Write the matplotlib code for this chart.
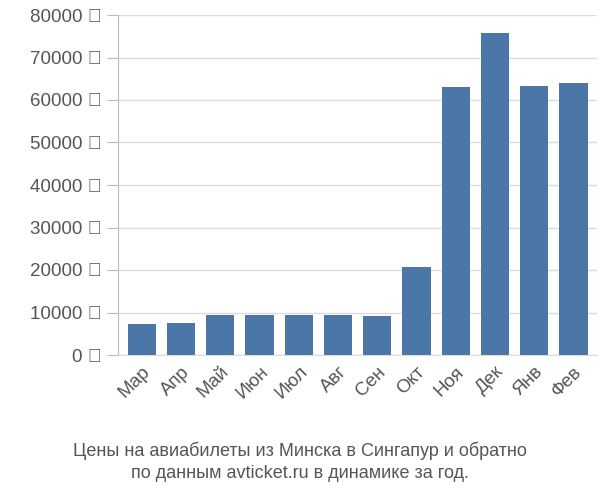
import matplotlib
matplotlib.use("Agg")
import matplotlib.pyplot as plt

months = ["Мар","Апр","Май","Июн","Июл","Авг","Сен","Окт","Ноя","Дек","Янв","Фев"]
prices = [7400, 7600, 9400, 9400, 9300, 9300, 9200, 20600, 63000, 75800, 63400, 64000]
yticks = [0,10000,20000,30000,40000,50000,60000,70000,80000]

plt.rcParams["font.family"] = "Liberation Sans"
fig = plt.figure(figsize=(6,5), dpi=100)
ax = fig.add_axes([0.197, 0.29, 0.798, 0.68])
ax.bar(range(len(months)), prices, width=0.72, color="#4a76a8", zorder=3)
ax.set_ylim(0, 80000)
ax.set_xlim(-0.6, len(months)-0.4)
ax.set_yticks(yticks)
ax.set_yticklabels([f"{v} ₽" for v in yticks], fontsize=13.5, color="#555555")
ax.set_xticks(range(len(months)))
ax.set_xticklabels(months, rotation=45, ha="right", rotation_mode="anchor", fontsize=13.5, color="#555555")
ax.grid(axis="y", color="#dddddd", linewidth=1, zorder=0)
for s in ["top","right"]:
    ax.spines[s].set_visible(False)
ax.spines["left"].set_color("#bbbbbb")
ax.spines["bottom"].set_color("#dddddd")
ax.tick_params(axis="y", length=8, color="#bbbbbb")
ax.tick_params(axis="x", length=0, pad=6)
fig.text(0.5, 0.035, "Цены на авиабилеты из Минска в Сингапур и обратно\nпо данным avticket.ru в динамике за год.",
         ha="center", va="bottom", fontsize=13, color="#555555", linespacing=1.4)
fig.savefig("out.png")
